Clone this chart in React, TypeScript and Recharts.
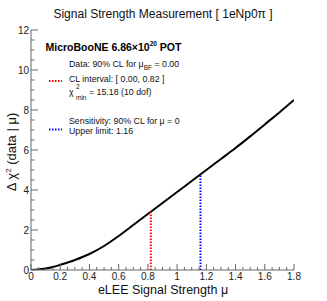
import { ComposedChart, Line, XAxis, YAxis } from "recharts";

const muValues = [0, 0.05, 0.1, 0.15, 0.2, 0.3, 0.4, 0.5, 0.6, 0.7, 0.8, 0.9, 1.0, 1.1, 1.2, 1.3, 1.4, 1.5, 1.6, 1.7, 1.8];
const deltaChi2 = [0, 0.02, 0.07, 0.15, 0.26, 0.5, 0.8, 1.2, 1.7, 2.25, 2.8, 3.35, 3.9, 4.45, 5.0, 5.55, 6.1, 6.68, 7.28, 7.88, 8.5];

const dataLimit = [{ mu: 0.82, chi: 0 }, { mu: 0.82, chi: 2.91 }];
const sensLimit = [{ mu: 1.16, chi: 0 }, { mu: 1.16, chi: 4.78 }];

const xMajor = [0, 0.2, 0.4, 0.6, 0.8, 1, 1.2, 1.4, 1.6, 1.8];
const yMajor = [0, 2, 4, 6, 8, 10, 12];

const curve = muValues.map((mu, i) => ({ mu, chi: deltaChi2[i] }));

const FONT = "'Liberation Sans', Arial, Helvetica, sans-serif";
const AXIS = "#666";

function minorTicks(max: number, step: number) {
  const out: number[] = [];
  for (let i = 0; i * step <= max + 1e-9; i++) out.push(+(i * step).toFixed(3));
  return out;
}
const xTicks = minorTicks(1.8, 0.05);
const yTicks = minorTicks(12, 0.5);

const isMajor = (v: number, list: number[]) => list.some((m) => Math.abs(m - v) < 1e-6);

function XTick({ x, y, payload }: any) {
  const major = isMajor(payload.value, xMajor);
  return (
    <g>
      <line x1={x} x2={x} y1={y} y2={y - (major ? 6 : 3)} stroke={AXIS} strokeWidth={1} />
      {major && (
        <text x={x} y={y + 10} textAnchor="middle" fontSize={10} fill="#222" fontFamily={FONT}>
          {payload.value}
        </text>
      )}
    </g>
  );
}

function YTick({ x, y, payload }: any) {
  const major = isMajor(payload.value, yMajor);
  return (
    <g>
      <line x1={x} x2={x + (major ? 7 : 3.5)} y1={y} y2={y} stroke={AXIS} strokeWidth={1} />
      {major && (
        <text x={x - 2} y={y + 3.5} textAnchor="end" fontSize={10} fill="#222" fontFamily={FONT}>
          {payload.value}
        </text>
      )}
    </g>
  );
}

export default function App() {
  return (
    <div style={{ position: "absolute", left: 0, top: 0, width: 327, height: 301, background: "#fff" }}>
      <ComposedChart width={327} height={301} margin={{ top: 30, right: 33, bottom: 0, left: 0 }}>
        <XAxis
          xAxisId="b"
          type="number"
          dataKey="mu"
          domain={[0, 1.8]}
          ticks={xTicks}
          interval={0}
          tick={<XTick />}
          tickLine={false}
          tickSize={0}
          tickMargin={0}
          height={31}
          axisLine={{ stroke: AXIS }}
          allowDataOverflow
        />
        <XAxis xAxisId="t" orientation="top" type="number" domain={[0, 1.8]} tick={false} tickLine={false} height={0} axisLine={{ stroke: AXIS }} />
        <YAxis
          yAxisId="l"
          type="number"
          domain={[0, 12]}
          ticks={yTicks}
          interval={0}
          tick={<YTick />}
          tickLine={false}
          tickSize={0}
          tickMargin={0}
          width={31}
          axisLine={{ stroke: AXIS }}
          allowDataOverflow
        />
        <YAxis yAxisId="r" orientation="right" type="number" domain={[0, 12]} tick={false} tickLine={false} width={0} axisLine={{ stroke: AXIS }} />
        <Line xAxisId="b" yAxisId="l" data={curve} dataKey="chi" type="monotone" stroke="#000" strokeWidth={2} dot={false} isAnimationActive={false} />
        <Line xAxisId="b" yAxisId="l" data={dataLimit} dataKey="chi" type="linear" stroke="#ff0000" strokeWidth={2} strokeDasharray="1.5 1.5" dot={false} isAnimationActive={false} />
        <Line xAxisId="b" yAxisId="l" data={sensLimit} dataKey="chi" type="linear" stroke="#0000ff" strokeWidth={2} strokeDasharray="1.5 1.5" dot={false} isAnimationActive={false} />
      </ComposedChart>
      <svg width={327} height={301} style={{ position: "absolute", left: 0, top: 0, pointerEvents: "none" }} fontFamily={FONT}>
        <text x={163} y={18} textAnchor="middle" fontSize={12} fill="#111">Signal Strength Measurement [ 1eNp0π ]</text>
        <text x={163} y={294} textAnchor="middle" fontSize={12.5} fill="#111">eLEE Signal Strength μ</text>
        <text transform="translate(16,152) rotate(-90)" textAnchor="middle" fontSize={13} fill="#111">
          Δ χ<tspan fontSize={8} dy={-5}>2</tspan><tspan dy={5}> (data | μ)</tspan>
        </text>
        <text x={45.5} y={50.5} fontSize={10.5} fontWeight="bold" fill="#000">
          MicroBooNE 6.86×10<tspan fontSize={6.5} dy={-5}>20</tspan><tspan dy={5}> POT</tspan>
        </text>
        <text x={69} y={66.5} fontSize={8.8} fill="#111">
          Data: 90% CL for μ<tspan fontSize={6.5} dy={3}>BF</tspan><tspan dy={-3}> = 0.00</tspan>
        </text>
        <text x={69} y={81.5} fontSize={8.8} fill="#111">CL interval: [ 0.00, 0.82 ]</text>
        <text x={69} y={95} fontSize={8.8} fill="#111">χ</text>
        <text x={76} y={89} fontSize={6.5} fill="#111">2</text>
        <text x={76} y={99.5} fontSize={6.5} fill="#111">min</text>
        <text x={89} y={95} fontSize={8.8} fill="#111">= 15.18 (10 dof)</text>
        <text x={69} y={124} fontSize={8.8} fill="#111">Sensitivity: 90% CL for μ = 0</text>
        <text x={69} y={134} fontSize={8.8} fill="#111">Upper limit: 1.16</text>
        <line x1={49} x2={62} y1={81} y2={81} stroke="#ff0000" strokeWidth={2} strokeDasharray="1.5 1.5" />
        <line x1={49} x2={62} y1={129.5} y2={129.5} stroke="#0000ff" strokeWidth={2} strokeDasharray="1.5 1.5" />
      </svg>
    </div>
  );
}
